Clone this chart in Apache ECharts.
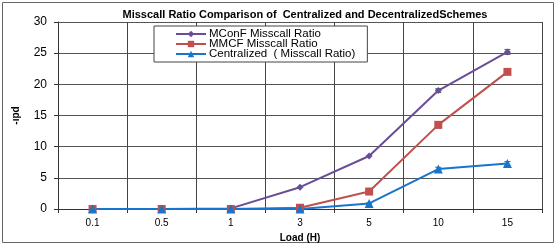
<!DOCTYPE html>
<html><head><meta charset="utf-8">
<script src="https://cdn.jsdelivr.net/npm/echarts@6/dist/echarts.min.js"></script>
<style>html,body{margin:0;padding:0;background:#fff}#c{width:556px;height:245px}</style>
</head><body><div id="c"></div>
<script>
const categories = ['0.1','0.5','1','3','5','10','15'];
const mconf = [0, 0, 0.1, 3.5, 8.5, 19, 25.2];
const mmcf = [0, 0, 0, 0.2, 2.8, 13.5, 22];
const centralized = [0, 0, 0, 0, 0.9, 6.4, 7.3];
const mconfErr = [0, 0, 0, 0, 0, 0.3, 0.4];
const mmcfErr = [0, 0, 0, 0.1, 0.3, 0.5, 0.4];
const centralizedErr = [0, 0, 0, 0, 0.1, 0.3, 0.3];
const seriesNames = ['MConF Misscall Ratio', 'MMCF Misscall Ratio', 'Centralized  ( Misscall Ratio)'];
const yTicks = [0, 5, 10, 15, 20, 25, 30];

const chart = echarts.init(document.getElementById('c'), null, {renderer:'canvas'});
const font = 'Liberation Sans, Arial, sans-serif';
function mk(name, data, color, symbol, size){
  return {name, type:'line', data, symbol, symbolSize:size, showSymbol:true, z:3,
    lineStyle:{color, width:2}, itemStyle:{color}, animation:false};
}
function err(vals, errs){
  return {type:'custom', silent:true, z:2, data: vals.map((v,i)=>[i, v-errs[i], v+errs[i]]),
    renderItem(params, api){
      if (api.value(2) - api.value(1) <= 0) return null;
      const lo = api.coord([api.value(0), api.value(1)]);
      const hi = api.coord([api.value(0), api.value(2)]);
      const w = 3;
      return {type:'group', children:[
        {type:'line', shape:{x1:lo[0], y1:lo[1], x2:hi[0], y2:hi[1]}, style:{stroke:'#555', lineWidth:1}},
        {type:'line', shape:{x1:lo[0]-w, y1:lo[1], x2:lo[0]+w, y2:lo[1]}, style:{stroke:'#555', lineWidth:1}},
        {type:'line', shape:{x1:hi[0]-w, y1:hi[1], x2:hi[0]+w, y2:hi[1]}, style:{stroke:'#555', lineWidth:1}}
      ]};
    }};
}
chart.setOption({
  animation:false,
  title:{text:'Misscall Ratio Comparison of  Centralized and DecentralizedSchemes', left:300, top:4, textAlign:'center',
    textStyle:{fontFamily:font, fontSize:11, fontWeight:'bold', color:'#000'}},
  graphic:[{type:'rect', shape:{x:2.5, y:2.5, width:551, height:240}, style:{fill:'none', stroke:'#666', lineWidth:1}, silent:true}],
  legend:{left:154, top:26, orient:'vertical', itemGap:-2, itemWidth:30, itemHeight:8,
    backgroundColor:'#fff', borderColor:'#444', borderWidth:1, padding:[2,12,2,21],
    textStyle:{fontFamily:font, fontSize:11.5, color:'#000', padding:[0,0,0,-2]}, data:seriesNames},
  grid:{left:58, right:14, top:22, bottom:36, outerBoundsMode:'none', containLabel:false},
  xAxis:{type:'category', data:categories, boundaryGap:true,
    name:'Load (H)', nameLocation:'middle', nameGap:23,
    nameTextStyle:{fontFamily:font, fontSize:10, fontWeight:'bold', color:'#000'},
    axisLine:{lineStyle:{color:'#333'}}, axisTick:{show:true, alignWithLabel:false, length:4, lineStyle:{color:'#333'}},
    axisLabel:{fontFamily:font, fontSize:10, color:'#000', margin:9},
    splitLine:{show:true, lineStyle:{color:'#444', width:1}}},
  yAxis:{type:'value', min:yTicks[0], max:yTicks[yTicks.length-1], interval:5,
    name:'-ıpd', nameLocation:'middle', nameGap:37, nameRotate:90,
    nameTextStyle:{fontFamily:font, fontSize:10, fontWeight:'bold', color:'#000'},
    axisLine:{show:true, lineStyle:{color:'#333'}}, axisTick:{show:true, length:4, lineStyle:{color:'#333'}},
    axisLabel:{fontFamily:font, fontSize:12, color:'#000', margin:11},
    splitLine:{show:true, lineStyle:{color:'#555', width:1}}},
  series:[
    err(mconf, mconfErr), err(mmcf, mmcfErr), err(centralized, centralizedErr),
    mk(seriesNames[0], mconf, '#6a4d97', 'diamond', 7),
    mk(seriesNames[1], mmcf, '#c0504d', 'rect', 8),
    mk(seriesNames[2], centralized, '#1874cd', 'triangle', 9)
  ]
});
</script></body></html>
